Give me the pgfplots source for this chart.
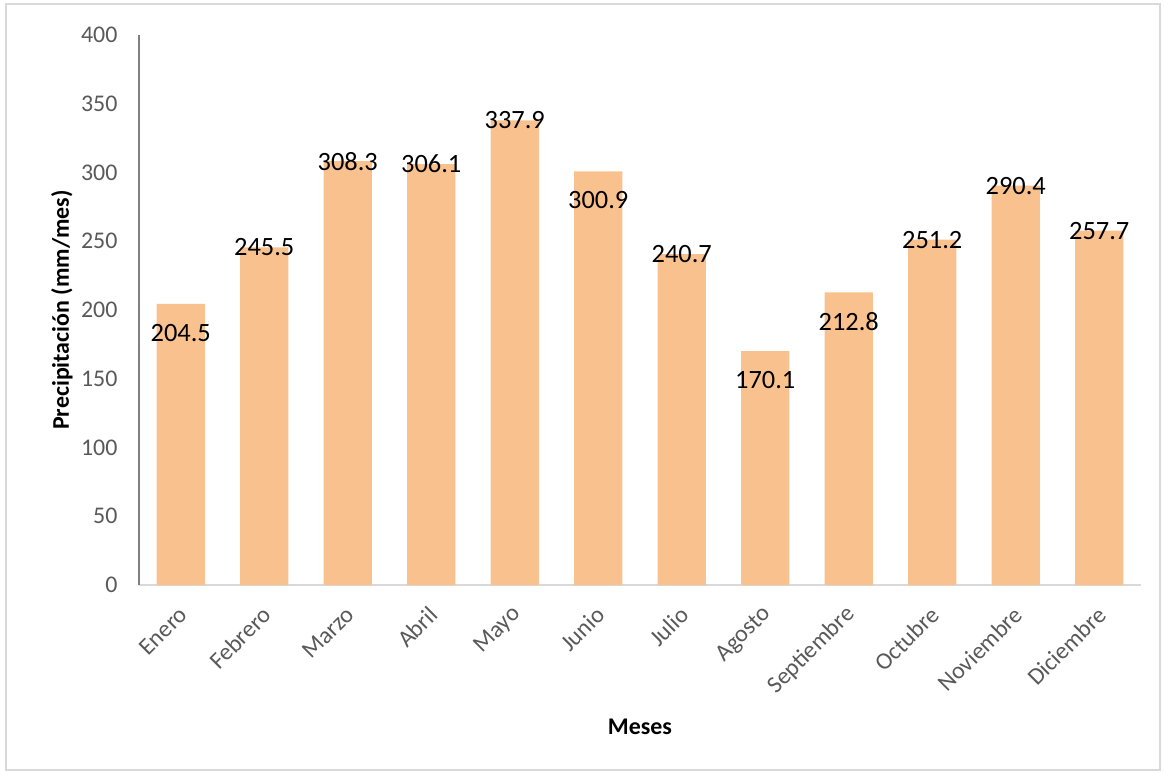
\documentclass[border=0pt]{standalone}
\usepackage{pgfplots}
\pgfplotsset{compat=1.18}
\usepackage{pgfplotstable}
\usepackage{fontspec}
\setmainfont{Carlito}
\definecolor{barc}{HTML}{F8C18E}
\definecolor{tickc}{HTML}{595959}
\pgfplotstableread{
x y off
0 204.5 -29
1 245.5 0
2 308.3 0
3 306.1 0
4 337.9 0
5 300.9 -29
6 240.7 0
7 170.1 -29
8 212.8 -29
9 251.2 0
10 290.4 0
11 257.7 0
}\datatable
\begin{document}
\begin{tikzpicture}
\begin{axis}[
  scale only axis,
  width=1002bp, height=550bp,
  xmin=-0.5, xmax=11.5,
  ymin=0, ymax=400,
  ytick={0,50,...,400},
  xtick={0,...,11},
  xticklabels={Enero,Febrero,Marzo,Abril,Mayo,Junio,Julio,Agosto,Septiembre,Octubre,Noviembre,Diciembre},
  axis x line*=bottom,
  axis y line*=left,
  x axis line style={draw=black!15, line width=1.2bp, -},
  y axis line style={draw=black!50, line width=1.2bp, -},
  major tick length=0pt,
  /pgf/number format/assume math mode=true,
  tick label style={font=\fontsize{24}{28}\selectfont, text=tickc},
  yticklabel style={xshift=-18bp},
  xticklabel style={rotate=45, anchor=east, xshift=-13bp, yshift=-20bp},
  xlabel={\textbf{Meses}},
  ylabel={\textbf{Precipitación (mm/mes)}},
  every axis x label/.style={at={(axis description cs:0.5,0)}, yshift=-142bp, anchor=center, font=\fontsize{24}{28}\selectfont},
  every axis y label/.style={at={(axis description cs:0,0.5)}, xshift=-77bp, rotate=90, anchor=center, font=\fontsize{24}{28}\selectfont},
  ybar,
  bar width=0.575,
  nodes near coords,
  visualization depends on={\thisrow{off} \as \off},
  every node near coord/.append style={anchor=center, yshift=\off bp, font=\fontsize{26.5}{30}\selectfont, text=black},
  nodes near coords={\pgfmathprintnumber[fixed, fixed zerofill, precision=1]{\pgfplotspointmeta}},
]
\addplot[fill=barc, draw=none] table[x=x, y=y] {\datatable};
\end{axis}
\draw[black!15, line width=1.5bp] (-133bp,-185bp) rectangle (1021bp,581bp);
\useasboundingbox (-139bp,-189bp) rectangle (1025bp,585bp);
\end{tikzpicture}
\end{document}
